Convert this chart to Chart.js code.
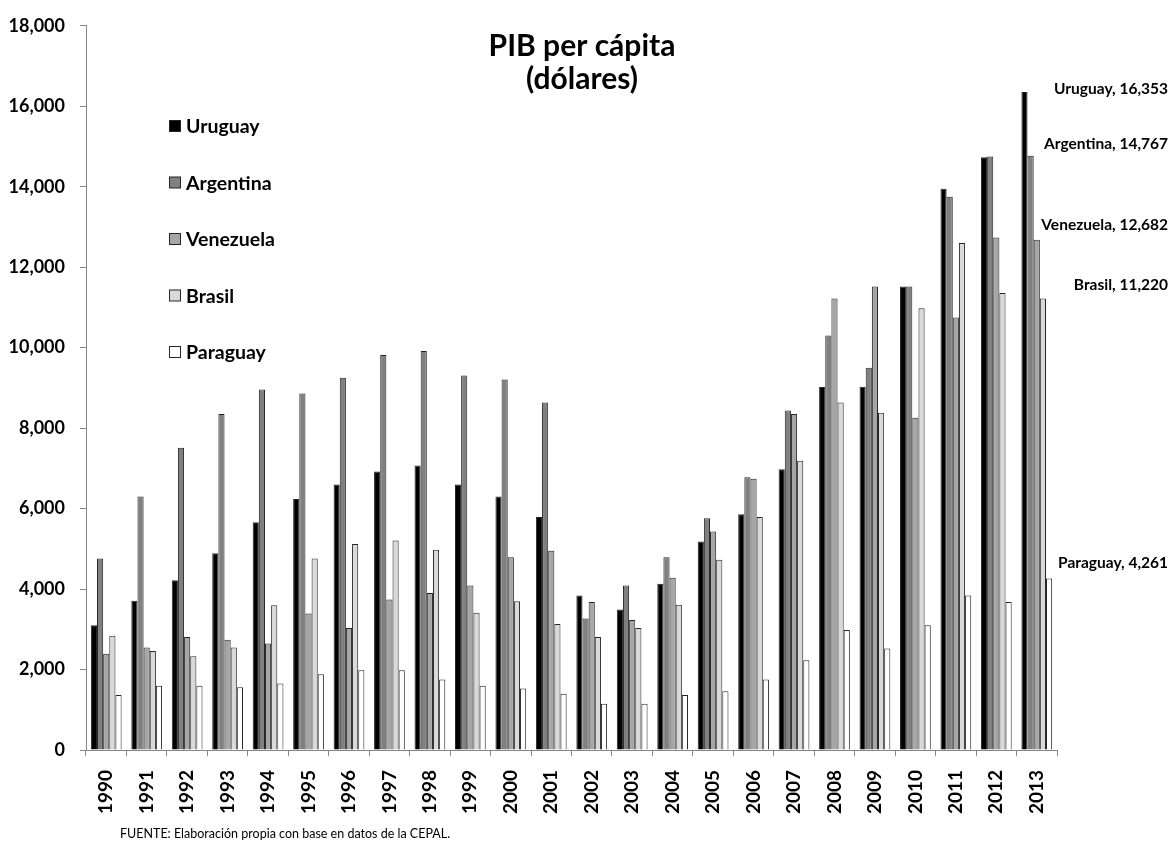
<!DOCTYPE html>
<html>
<head>
<meta charset="utf-8">
<script src="https://cdn.jsdelivr.net/npm/chart.js@4.4.1/dist/chart.umd.min.js"></script>
<style>
  body { margin: 0; background: #fff; }
  #caja { width: 1170px; height: 848px; position: relative; }
</style>
</head>
<body>
<div id="caja"><canvas id="graficoPib"></canvas></div>
<script>
const anios = ['1990', '1991', '1992', '1993', '1994', '1995', '1996', '1997', '1998', '1999', '2000', '2001',
  '2002', '2003', '2004', '2005', '2006', '2007', '2008', '2009', '2010', '2011', '2012', '2013'];

const paises = ['Uruguay', 'Argentina', 'Venezuela', 'Brasil', 'Paraguay'];

const uruguay = [3100, 3710, 4220, 4890, 5660, 6240, 6600, 6920, 7070, 6600, 6300, 5790,
  3840, 3490, 4130, 5180, 5860, 6980, 9020, 9030, 11520, 13950, 14730, 16353];
const argentina = [4760, 6300, 7510, 8350, 8960, 8860, 9250, 9820, 9920, 9310, 9210, 8640,
  3270, 4090, 4790, 5760, 6780, 8440, 10300, 9500, 11520, 13750, 14750, 14767];
const venezuela = [2390, 2550, 2810, 2740, 2650, 3390, 3030, 3740, 3900, 4090, 4790, 4950,
  3680, 3230, 4280, 5430, 6740, 8350, 11220, 11520, 8260, 10750, 12740, 12682];
const brasil = [2840, 2460, 2330, 2550, 3600, 4760, 5120, 5210, 4980, 3410, 3700, 3130,
  2810, 3030, 3610, 4730, 5790, 7190, 8640, 8380, 10980, 12600, 11360, 11220];
const paraguay = [1370, 1600, 1600, 1560, 1650, 1880, 1980, 1980, 1750, 1600, 1530, 1400,
  1150, 1150, 1370, 1460, 1750, 2230, 2980, 2520, 3100, 3840, 3680, 4261];

const ticksY = [0, 2000, 4000, 6000, 8000, 10000, 12000, 14000, 16000, 18000];

const colores = ['#000000', '#808080', '#a6a6a6', '#d9d9d9', '#ffffff'];
const series = [uruguay, argentina, venezuela, brasil, paraguay];

const fuente = 'Lato, "DejaVu Sans", sans-serif';
const colorEje = '#868686';

// titulo, leyenda, etiquetas del ultimo anio y nota de fuente
const pluginTextos = {
  id: 'textos',
  afterDraw(chart) {
    const ctx = chart.ctx;
    const escalaY = chart.scales.y;
    ctx.save();
    ctx.fillStyle = '#000';

    ctx.font = 'bold 30px ' + fuente;
    ctx.textAlign = 'center';
    ctx.textBaseline = 'middle';
    ctx.fillText('PIB per cápita', 582, 46);
    ctx.fillText('(dólares)', 582, 79);

    ctx.font = 'bold 19.5px ' + fuente;
    ctx.textAlign = 'left';
    chart.data.datasets.forEach((ds, i) => {
      const y = 126 + i * 56.5;
      ctx.fillStyle = ds.backgroundColor;
      ctx.fillRect(169.5, y - 5.5, 11, 11);
      ctx.strokeStyle = '#262626';
      ctx.lineWidth = 1;
      ctx.strokeRect(169.5, y - 5.5, 11, 11);
      ctx.fillStyle = '#000';
      ctx.fillText(ds.label, 186, y + 1);
    });

    const ultimo = anios.length - 1;
    const ajustes = [-3, -12, -15, -14, -16];
    ctx.font = 'bold 15.5px ' + fuente;
    ctx.textAlign = 'right';
    chart.data.datasets.forEach((ds, i) => {
      const v = ds.data[ultimo];
      const y = escalaY.getPixelForValue(v) + ajustes[i];
      ctx.fillText(ds.label + ', ' + v.toLocaleString('en-US'), 1168, y);
    });

    ctx.font = '12.5px ' + fuente;
    ctx.textAlign = 'left';
    ctx.fillText('FUENTE: Elaboración propia con base en datos de la CEPAL.', 120, 834);
    ctx.restore();
  }
};

new Chart(document.getElementById('graficoPib').getContext('2d'), {
  type: 'bar',
  data: {
    labels: anios,
    datasets: paises.map((nombre, i) => ({
      label: nombre,
      data: series[i],
      backgroundColor: colores[i],
      borderColor: '#262626',
      borderWidth: 1,
      categoryPercentage: 0.76,
      barPercentage: 1
    }))
  },
  options: {
    responsive: true,
    maintainAspectRatio: false,
    animation: false,
    layout: { padding: { top: 24, right: 113, bottom: 28, left: 0 } },
    plugins: {
      legend: { display: false },
      title: { display: false },
      tooltip: { enabled: false }
    },
    scales: {
      x: {
        grid: { offset: true, drawOnChartArea: false, tickLength: 6, color: colorEje },
        border: { color: colorEje },
        ticks: {
          color: '#000',
          font: { family: fuente, size: 19, weight: 'bold' },
          minRotation: 90,
          maxRotation: 90,
          padding: 14
        },
        afterFit(escala) { escala.height = 70; }
      },
      y: {
        min: 0,
        max: 18000,
        afterBuildTicks(escala) { escala.ticks = ticksY.map(v => ({ value: v })); },
        grid: { drawOnChartArea: false, tickLength: 6, color: colorEje },
        border: { color: colorEje },
        ticks: {
          color: '#000',
          font: { family: fuente, size: 18, weight: 'bold' },
          padding: 15,
          callback: v => v.toLocaleString('en-US')
        },
        afterFit(escala) { escala.width = 86; }
      }
    }
  },
  plugins: [pluginTextos]
});
</script>
</body>
</html>
